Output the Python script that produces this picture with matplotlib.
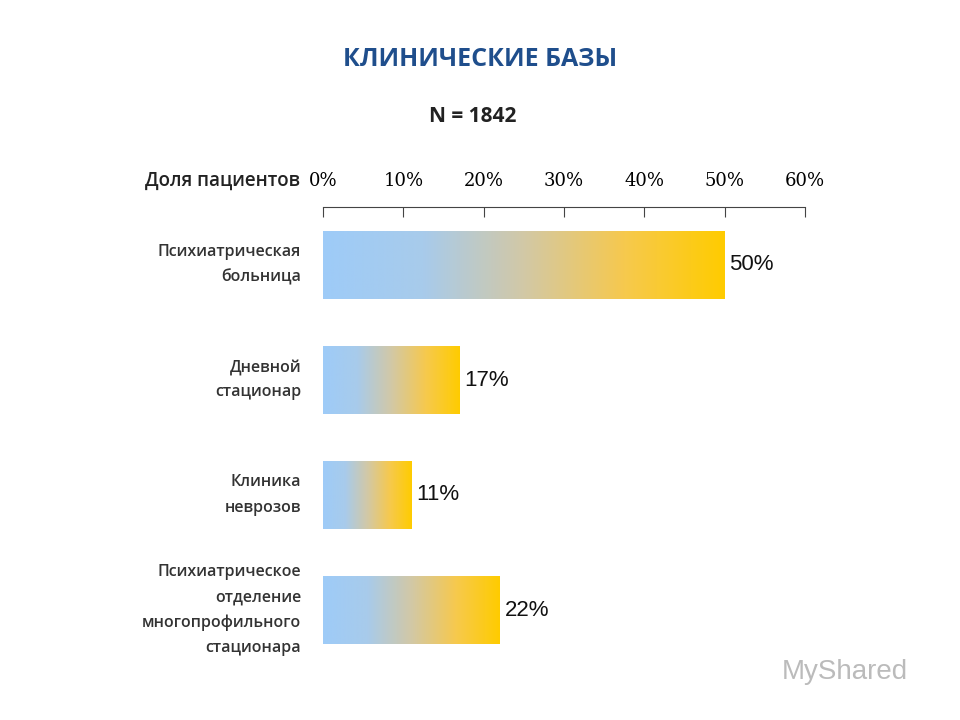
import matplotlib
matplotlib.use("Agg")
import matplotlib.pyplot as plt
import numpy as np
from matplotlib.colors import LinearSegmentedColormap

categories = ["Психиатрическая\nбольница", "Дневной\nстационар", "Клиника\nневрозов",
              "Психиатрическое\nотделение\nмногопрофильного\nстационара"]
values = [50, 17, 11, 22]
value_labels = ["50%", "17%", "11%", "22%"]
ticks = [0, 10, 20, 30, 40, 50, 60]
tick_labels = ["0%", "10%", "20%", "30%", "40%", "50%", "60%"]

W, H = 960, 720
fig = plt.figure(figsize=(9.6, 7.2), dpi=100)
ax_top, ax_bot = 207, 700
ax = fig.add_axes([323/W, 1-ax_bot/H, (805-323)/W, (ax_bot-ax_top)/H])

cmap = LinearSegmentedColormap.from_list("g", ["#9ecbf8", "#a8cbeb", "#d2c8a6", "#f6c94e", "#ffcc00"])
grad = np.linspace(0, 1, 256).reshape(1, -1)
h = 0.59
for i, v in enumerate(values):
    ax.imshow(grad, cmap=cmap, aspect="auto", extent=[0, v, i+h/2, i-h/2], zorder=2)
    ax.text(v + 0.6, i, value_labels[i], va="center", ha="left", fontsize=16,
            family="Liberation Sans", color="#111111")
    ax.text(-2.7, i, categories[i], va="center", ha="right", fontsize=11.5,
            fontweight="semibold", color="#333333", family="Open Sans", linespacing=1.75)

ax.set_xlim(0, 60)
ax.set_ylim((ax_bot-265)/115, (ax_top-265)/115)
for s in ["right", "bottom", "left"]:
    ax.spines[s].set_visible(False)
ax.spines["top"].set_color("#444444")
ax.xaxis.tick_top()
ax.set_xticks(ticks)
ax.set_xticklabels(tick_labels, family="DejaVu Serif", fontsize=13)
ax.tick_params(axis="x", direction="in", length=7, pad=12, color="#444444")
ax.set_yticks([])

fig.text(480/W, 1-60/H, "КЛИНИЧЕСКИЕ БАЗЫ", ha="center", va="center", fontsize=18,
         fontweight="bold", color="#1f4e8c", family="Open Sans")
fig.text(473/W, 1-117/H, "N = 1842", ha="center", va="center", fontsize=15,
         fontweight="bold", color="#222222", family="Open Sans")
fig.text(145/W, 1-181/H, "Доля пациентов", ha="left", va="center", fontsize=13.5,
         fontweight="semibold", color="#222222", family="Open Sans")
fig.text(845/W, 1-672/H, "MyShared", ha="center", va="center", fontsize=20,
         color="#bbbbbb", family="Liberation Sans")
fig.savefig("out.png", dpi=100)
